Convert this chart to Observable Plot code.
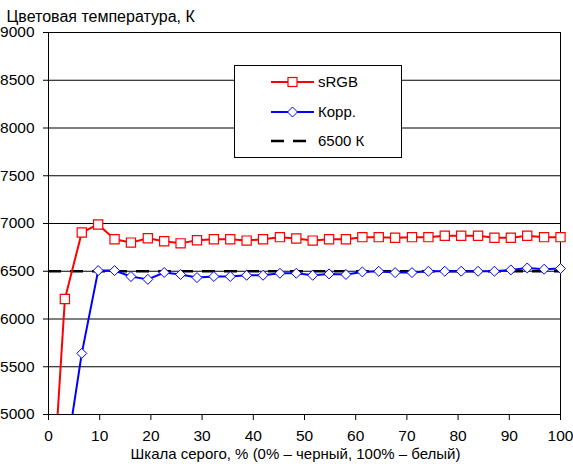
<!DOCTYPE html>
<html>
<head>
<meta charset="utf-8">
<script src="https://cdn.jsdelivr.net/npm/d3@7"></script>
<script src="https://cdn.jsdelivr.net/npm/@observablehq/plot@0.6"></script>
<style>
  html, body { margin: 0; padding: 0; background: white; }
  #wrap { position: relative; width: 573px; height: 467px; font-family: 'Liberation Sans', Arial, sans-serif; font-size: 15px; }
  #legend { position: absolute; left: 234px; top: 65px; width: 166px; height: 91px; border: 1px solid black; background: white; }
  .lrow { position: absolute; left: 0; height: 20px; width: 166px; }
  .lrow svg { position: absolute; left: 34px; top: 0; }
  .lrow span { position: absolute; left: 83px; top: 1px; line-height: 18px; }
</style>
</head>
<body>
<div id="wrap"></div>
<script>
// Grey level, % (x positions of the measurements)
const greyLevels = [0, 3.2, 6.5, 9.7, 12.9, 16.1, 19.4, 22.6, 25.8, 29.0, 32.3, 35.5, 38.7, 41.9, 45.2, 48.4,
                    51.6, 54.8, 58.1, 61.3, 64.5, 67.7, 71.0, 74.2, 77.4, 80.6, 83.9, 87.1, 90.3, 93.5, 96.8, 100];
// Colour temperature, K
const srgbValues = [3480, 6210, 6906, 6990, 6835, 6800, 6846, 6814, 6792, 6824, 6835, 6835, 6821, 6835, 6857, 6843,
                    6821, 6835, 6835, 6857, 6857, 6850, 6857, 6857, 6872, 6872, 6872, 6850, 6850, 6872, 6857, 6857];
const korrValues = [3000, 4480, 5640, 6507, 6507, 6445, 6415, 6487, 6466, 6434, 6445, 6445, 6458, 6458, 6479, 6479,
                    6458, 6472, 6466, 6493, 6500, 6486, 6486, 6500, 6500, 6500, 6500, 6500, 6514, 6534, 6521, 6528];
const referenceTemp = [6500];
const xTicks = [0, 10, 20, 30, 40, 50, 60, 70, 80, 90, 100];
const yTicks = [5000, 5500, 6000, 6500, 7000, 7500, 8000, 8500, 9000];
const seriesNames = ["sRGB", "Корр.", "6500 К"];
const titleText = "Цветовая температура, К";
const xLabelText = "Шкала серого, % (0% – черный, 100% – белый)";

const yMin = 5000, yMax = 9000;
const rows = greyLevels.map((g, i) => ({g, srgb: srgbValues[i], korr: korrValues[i]}));
const inRange = key => rows.filter(d => d[key] >= yMin && d[key] <= yMax);

const chart = Plot.plot({
  width: 573,
  height: 467,
  marginLeft: 48,
  marginRight: 13,
  marginTop: 32,
  marginBottom: 53,
  x: {domain: [0, 100], label: null},
  y: {domain: [yMin, yMax], label: null},
  style: {fontFamily: "'Liberation Sans', Arial, sans-serif", fontSize: "15px", background: "white", color: "black", overflow: "visible"},
  marks: [
    Plot.gridY(yTicks, {stroke: "black", strokeOpacity: 1, strokeWidth: 1}),
    Plot.axisY(yTicks, {tickSize: 5, tickPadding: 9, tickFormat: d => String(d), stroke: "black", strokeOpacity: 1, fill: "black", fontSize: 15.5}),
    Plot.axisX(xTicks, {tickSize: 6, tickPadding: 9, tickFormat: d => String(d), stroke: "black", strokeOpacity: 1, fill: "black", fontSize: 15.5}),
    Plot.ruleX([0, 100], {stroke: "black"}),
    Plot.ruleY(referenceTemp, {stroke: "black", strokeWidth: 2.5, strokeDasharray: "13,9"}),
    Plot.line(rows, {x: "g", y: "srgb", stroke: "#ff0000", strokeWidth: 2, clip: true}),
    Plot.dot(inRange("srgb"), {x: "g", y: "srgb", symbol: "square", r: 5.2, stroke: "#ff0000", strokeWidth: 1.2, fill: "white"}),
    Plot.line(rows, {x: "g", y: "korr", stroke: "#0000ff", strokeWidth: 2, clip: true}),
    Plot.dot(inRange("korr"), {x: "g", y: "korr", symbol: "diamond2", r: 4.5, stroke: "#0000ff", strokeWidth: 1, fill: "white"}),
    Plot.text([titleText], {frameAnchor: "top-left", dx: -42, dy: -22, textAnchor: "start", fill: "black", fontSize: 16}),
    Plot.text([xLabelText], {frameAnchor: "bottom", dx: -9, dy: 44, fill: "black"})
  ]
});

const wrap = document.getElementById("wrap");
wrap.appendChild(chart);

// Legend box (inside the plot area, as in the reference)
const legend = document.createElement("div");
legend.id = "legend";
const rowTops = [6, 36, 65];
const swatches = [
  `<svg width="46" height="20"><line x1="2" x2="45" y1="10" y2="10" stroke="#ff0000" stroke-width="2"/><rect x="19" y="5.5" width="9" height="9" fill="white" stroke="#ff0000" stroke-width="1.2"/></svg>`,
  `<svg width="46" height="20"><line x1="2" x2="45" y1="10" y2="10" stroke="#0000ff" stroke-width="2"/><path d="M23.5,5 L28.5,10 L23.5,15 L18.5,10 Z" fill="white" stroke="#0000ff" stroke-width="1"/></svg>`,
  `<svg width="46" height="20"><line x1="2" x2="45" y1="10" y2="10" stroke="black" stroke-width="2.5" stroke-dasharray="13,9"/></svg>`
];
seriesNames.forEach((name, i) => {
  const r = document.createElement("div");
  r.className = "lrow";
  r.style.top = rowTops[i] + "px";
  r.innerHTML = swatches[i] + `<span>${name}</span>`;
  legend.appendChild(r);
});
wrap.appendChild(legend);
</script>
</body>
</html>
